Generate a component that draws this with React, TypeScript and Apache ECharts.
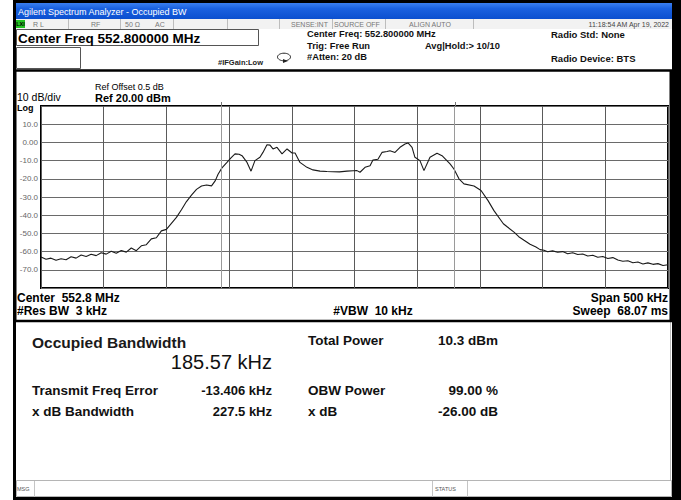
import React, { useEffect, useRef } from "react";
import * as echarts from "echarts";

// Trace: frequency offset from centre (kHz) and level (dBm)
const freqOffsets = [
  -250, -246, -242, -238, -234, -230, -226, -222, -218, -214, -210, -206, -202, -198, -194, -190,
  -186, -182, -178, -174, -170, -166, -162, -158, -154, -150, -146, -142, -138, -134, -130, -126,
  -122, -118, -114, -111, -108.8, -105.7, -101.7, -98.5, -95.3, -92, -89.7, -85.7, -82.5, -79.4,
  -75.4, -73, -69.8, -67.4, -65, -61.8, -57.8, -53.8, -49.8, -47.4, -43.5, -37.9, -33.1, -27.5,
  -22, -17.2, -12, -6, -1, 2, 4.4, 8.4, 12.4, 14.7, 18.7, 21.9, 25.9, 28.3, 32.3, 36.3, 40.3,
  42.7, 45.9, 48.2, 52.2, 55.4, 60.2, 65.8, 69.8, 76.2, 79.3, 83.3, 87.3, 95.3, 100.9, 106.5,
  111.2, 118.7, 122, 127.2, 131, 135.2, 140, 144.7, 148, 151.1, 154, 158, 162, 166, 170, 174, 178,
  182, 186, 190, 194, 198, 202, 206, 210, 214, 218, 222, 226, 230, 234, 238, 242, 246, 250,
];
const levels = [
  -63.0, -64.2, -63.6, -64.8, -63.9, -64.5, -62.8, -63.6, -61.9, -62.7, -61.5, -62.2, -60.6, -61.4, -59.8, -60.9,
  -59.4, -60.3, -58.0, -59.5, -56.8, -56.2, -53.0, -52.4, -48.6, -47.8, -44.5, -41.2, -37.0, -32.5, -29.0, -25.8,
  -24.0, -23.4, -23.9, -21.0, -17.5, -14.0, -11.0, -8.5, -6.3, -6.5, -7.3, -11.0, -15.8, -10.0,
  -8.2, -5.5, -1.3, -1.5, -3.6, -2.7, -6.3, -3.6, -5.8, -5.8, -11.0, -13.7, -15.1, -15.8,
  -16.0, -16.1, -16.2, -15.8, -15.6, -15.5, -16.4, -13.7, -12.8, -9.7, -9.3, -5.5, -5.0, -4.6, -5.5, -2.7, -0.9,
  -0.3, -2.7, -8.2, -10.0, -15.5, -8.2, -6.0, -7.3, -11.8, -14.6, -20.0, -22.8, -24.0, -26.4, -32.0,
  -37.5, -44.7, -46.5, -49.3, -51.8, -53.8, -56.0, -57.5, -58.9, -59.3, -60.1, -59.6, -60.4, -60.0, -61.2, -60.6, -61.6,
  -61.3, -62.4, -62.0, -63.1, -62.7, -63.8, -63.3, -64.6, -65.3, -65.0, -66.1, -65.7, -66.8, -66.2, -67.0, -66.6, -67.6, -67.2,
];

// Axis settings (kHz span / dBm)
const spanKHz = 500;
const refLevel = 20;
const dbPerDiv = 10;
const bottomLevel = -80;

// Measurement results
const obwKHz = 185.57;
const freqErrorKHz = -13.406;
const obwMarkers = [freqErrorKHz - obwKHz / 2, freqErrorKHz + obwKHz / 2];

const statusSeparators = [68, 120, 173, 227, 279, 332, 385, 473];

const FF = "'Liberation Sans', Arial, sans-serif";

function txt(text: string, x: number, y: number, size: number, opts: any = {}) {
  return {
    type: "text",
    z: 10,
    silent: true,
    style: {
      text,
      x,
      y,
      fontSize: size,
      fontFamily: FF,
      fontWeight: opts.bold ? "bold" : "normal",
      fill: opts.color || "#000",
      align: opts.align || "left",
      verticalAlign: "middle",
    },
  };
}

function rect(x: number, y: number, w: number, h: number, style: any, z = 1) {
  return { type: "rect", z, silent: true, shape: { x, y, width: w, height: h }, style };
}

function vline(x: number, y1: number, y2: number, color: string, width = 1, z = 5) {
  return { type: "line", z, silent: true, shape: { x1: x, y1, x2: x, y2 }, style: { stroke: color, lineWidth: width } };
}

export default function App() {
  const ref = useRef<HTMLDivElement>(null);

  useEffect(() => {
    document.body.style.margin = "0";
    const chart = echarts.init(ref.current!, null, { renderer: "svg" });

    const graphic: any[] = [
      // outer black frame
      rect(13, 0, 668, 3, { fill: "#000" }),
      rect(13, 0, 3, 500, { fill: "#000" }),
      rect(672, 0, 9, 500, { fill: "#000" }),
      rect(13, 497, 668, 3, { fill: "#000" }),
      // title bar
      rect(16, 3, 656, 16, {
        fill: {
          type: "linear", x: 0, y: 0, x2: 0, y2: 1,
          colorStops: [
            { offset: 0, color: "#3a7ff0" },
            { offset: 0.35, color: "#1a61e0" },
            { offset: 1, color: "#0b4fcf" },
          ],
        },
      }),
      txt("Agilent Spectrum Analyzer - Occupied BW", 18, 11.5, 9, { color: "#fff" }),
      // status row
      rect(16, 19, 656, 10, { fill: "#f2f2f2" }),
      ...statusSeparators.map((x) => vline(x + 0.5, 19, 29, "#bdbdbd")),
      rect(16, 20, 9, 8, { fill: "#22c322" }),
      txt("LXI", 20.5, 24.3, 5.5, { bold: true, align: "center" }),
      txt("R L", 33, 24.3, 7, { color: "#777" }),
      txt("RF", 91, 24.3, 7, { color: "#777" }),
      txt("50 Ω", 125, 24.3, 7, { color: "#777" }),
      txt("AC", 155, 24.3, 7, { color: "#777" }),
      txt("SENSE:INT", 291, 24.3, 7, { color: "#777" }),
      txt("SOURCE OFF", 334, 24.3, 7, { color: "#777" }),
      txt("ALIGN AUTO", 409, 24.3, 7, { color: "#777" }),
      txt("11:18:54 AM Apr 19, 2022", 669, 24.3, 7, { color: "#444", align: "right" }),
      // header area
      rect(16.5, 29.5, 242, 16, { fill: "#fff", stroke: "#555", lineWidth: 1 }),
      txt("Center Freq 552.800000 MHz", 18, 38, 13.5, { bold: true }),
      rect(16.5, 47.5, 64, 21, { fill: "#fff", stroke: "#555", lineWidth: 1 }),
      txt("#IFGain:Low", 218, 62, 7.5, { bold: true, color: "#222" }),
      {
        type: "ellipse", z: 6, silent: true,
        shape: { cx: 284, cy: 57, rx: 6.5, ry: 3.8 },
        style: { fill: "none", stroke: "#222", lineWidth: 1 },
      },
      {
        type: "polygon", z: 7, silent: true,
        shape: { points: [[283, 59], [288, 61], [283, 63]] },
        style: { fill: "#222" },
      },
      txt("Center Freq: 552.800000 MHz", 307, 34, 9.3, { bold: true, color: "#111" }),
      txt("Trig: Free Run", 307, 45.5, 9.3, { bold: true, color: "#111" }),
      txt("#Atten: 20 dB", 307, 57, 9.3, { bold: true, color: "#111" }),
      txt("Avg|Hold:> 10/10", 425, 45.5, 9.3, { bold: true, color: "#111" }),
      txt("Radio Std: None", 551, 34, 9.5, { bold: true, color: "#111" }),
      txt("Radio Device: BTS", 551, 58.5, 9.5, { bold: true, color: "#111" }),
      // graph panel frame
      rect(15.25, 70.5, 655.5, 250.5, { fill: "none", stroke: "#000", lineWidth: 2.5 }, 8),
      txt("Ref Offset 0.5 dB", 95, 87, 9),
      txt("10 dB/div", 17, 97, 10.5),
      txt("Ref 20.00 dBm", 95, 97.5, 11, { bold: true }),
      txt("Log", 17, 107.5, 9, { bold: true }),
      txt("Center  552.8 MHz", 17, 297.5, 12, { bold: true }),
      txt("#Res BW  3 kHz", 17, 311, 12, { bold: true }),
      txt("#VBW  10 kHz", 373, 311, 12, { bold: true, align: "center" }),
      txt("Span 500 kHz", 668, 297.5, 12, { bold: true, align: "right" }),
      txt("Sweep  68.07 ms", 668, 311, 12, { bold: true, align: "right" }),
      // OBW marker stubs above plot
      vline(221.5, 102, 106, "#777"),
      vline(455.5, 102, 106, "#777"),
      // results panel
      vline(670.5, 322, 480, "#bbb"),
      txt("Occupied Bandwidth", 32, 342.5, 15.5, { bold: true, color: "#1a1a1a" }),
      txt(obwKHz.toFixed(2) + " kHz", 272, 362, 20, { color: "#111", align: "right" }),
      txt("Transmit Freq Error", 32, 390.5, 13.5, { bold: true, color: "#111" }),
      txt(freqErrorKHz.toFixed(3) + " kHz", 272, 390.5, 13, { bold: true, color: "#111", align: "right" }),
      txt("x dB Bandwidth", 32, 411, 13.5, { bold: true, color: "#111" }),
      txt("227.5 kHz", 272, 411, 13, { bold: true, color: "#111", align: "right" }),
      txt("Total Power", 308, 340.5, 13.5, { bold: true, color: "#111" }),
      txt("10.3 dBm", 498, 340.5, 13.5, { bold: true, color: "#111", align: "right" }),
      txt("OBW Power", 308, 390.5, 13.5, { bold: true, color: "#111" }),
      txt("99.00 %", 498, 390.5, 13.5, { bold: true, color: "#111", align: "right" }),
      txt("x dB", 308, 411, 13.5, { bold: true, color: "#111" }),
      txt("-26.00 dB", 498, 411, 13.5, { bold: true, color: "#111", align: "right" }),
      // MSG bar
      rect(16.5, 480.5, 655, 16, { fill: "#fff", stroke: "#b5b5b5", lineWidth: 1 }),
      vline(34.5, 481, 497, "#c5c5c5"),
      vline(432.5, 481, 497, "#c5c5c5"),
      vline(467.5, 481, 497, "#c5c5c5"),
      txt("MSG", 17, 489, 5.5, { color: "#555" }),
      txt("STATUS", 435, 489, 5.5, { color: "#555" }),
    ];

    chart.setOption({
      animation: false,
      backgroundColor: "#fff",
      grid: {
        left: 41,
        top: 106,
        width: 627,
        height: 182,
        show: true,
        borderColor: "#000",
        borderWidth: 2,
        backgroundColor: "transparent",
        containLabel: false,
      },
      xAxis: {
        type: "value",
        min: -spanKHz / 2,
        max: spanKHz / 2,
        interval: spanKHz / 10,
        axisLine: { show: false },
        axisTick: { show: false },
        axisLabel: { show: false },
        splitLine: { show: true, lineStyle: { color: "#5a5a5a", width: 1 } },
      },
      yAxis: {
        type: "value",
        min: bottomLevel,
        max: refLevel,
        interval: dbPerDiv,
        axisLine: { show: false },
        axisTick: { show: false },
        axisLabel: {
          margin: 3,
          fontSize: 8,
          fontFamily: FF,
          color: "#666",
          formatter: (v: number) => (v === refLevel || v === bottomLevel ? "" : v === 0 ? "0.00" : v.toFixed(1)),
        },
        splitLine: { show: true, lineStyle: { color: "#6a6a6a", width: 1 } },
      },
      series: [
        {
          type: "line",
          data: freqOffsets.map((f, i) => [f, levels[i]]),
          showSymbol: false,
          symbol: "none",
          lineStyle: { color: "#1a1a1a", width: 1.1 },
          z: 3,
          markLine: {
            silent: true,
            symbol: "none",
            label: { show: false },
            lineStyle: { color: "#9a9a9a", width: 1, type: "solid" },
            data: obwMarkers.map((x) => ({ xAxis: x })),
          },
        },
      ],
      graphic,
    });

    return () => chart.dispose();
  }, []);

  return <div ref={ref} style={{ width: 681, height: 500 }} />;
}
